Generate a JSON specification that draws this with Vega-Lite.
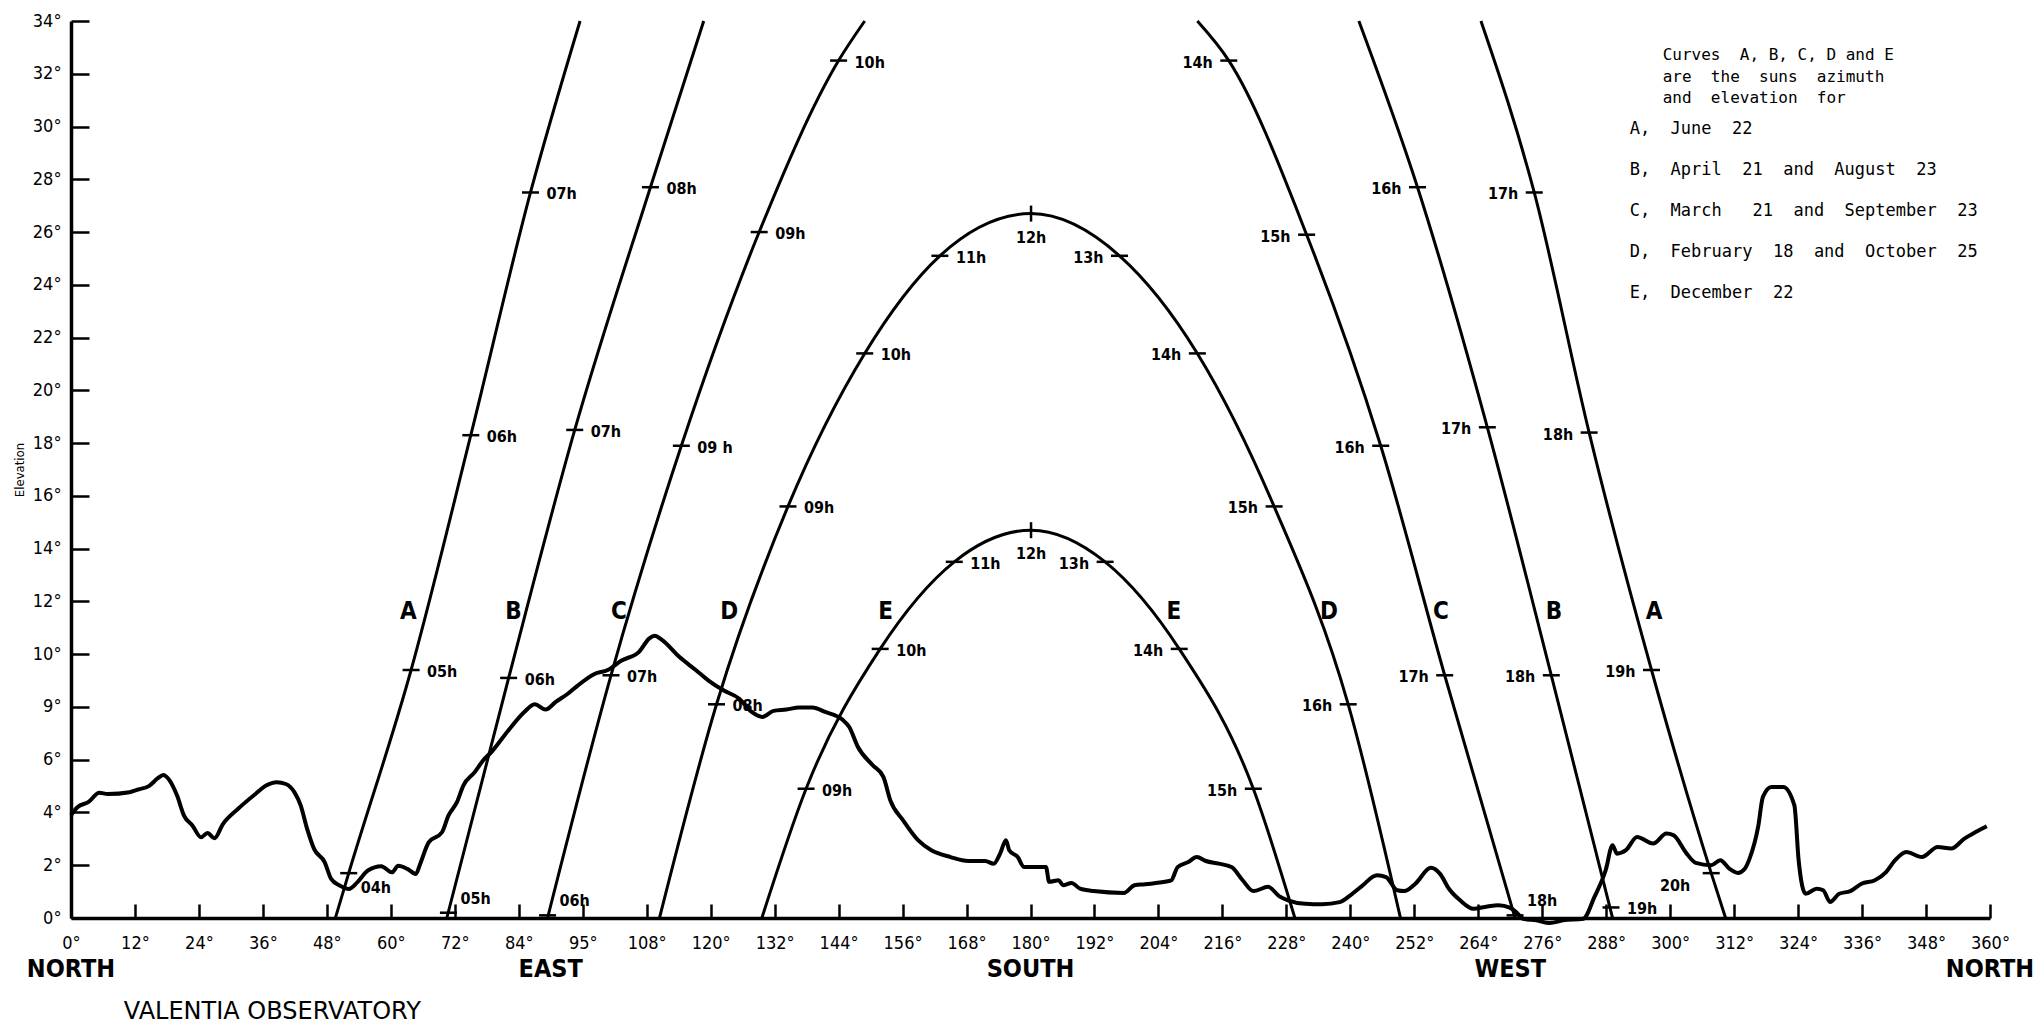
{
  "$schema": "https://vega.github.io/schema/vega-lite/v6.json",
  "width": 1919,
  "height": 897,
  "autosize": {"type": "none"},
  "padding": {"left": 71, "top": 21, "right": 50, "bottom": 110},
  "background": "white",
  "config": {
    "view": {"stroke": null},
    "font": "DejaVu Sans Condensed",
    "text": {"font": "DejaVu Sans Condensed", "color": "black"}
  },
  "datasets": {
    "horizon": [
      {"az": 0, "el": 3.9}, {"az": 1.2, "el": 4.2}, {"az": 3.3, "el": 4.4}, {"az": 5.3, "el": 4.75}, {"az": 6.9, "el": 4.7},
      {"az": 11.0, "el": 4.77}, {"az": 12.6, "el": 4.87}, {"az": 14.6, "el": 5.0}, {"az": 16.3, "el": 5.3}, {"az": 17.3, "el": 5.42},
      {"az": 18.3, "el": 5.27}, {"az": 19.9, "el": 4.64}, {"az": 21.2, "el": 3.88}, {"az": 22.8, "el": 3.5}, {"az": 24.4, "el": 3.06},
      {"az": 25.6, "el": 3.22}, {"az": 26.9, "el": 3.02}, {"az": 28.5, "el": 3.56}, {"az": 31.3, "el": 4.13}, {"az": 34.6, "el": 4.7},
      {"az": 36.6, "el": 5.02}, {"az": 38.6, "el": 5.15}, {"az": 40.3, "el": 5.08}, {"az": 41.9, "el": 4.77}, {"az": 43.1, "el": 4.26},
      {"az": 44.3, "el": 3.38}, {"az": 45.6, "el": 2.62}, {"az": 47.6, "el": 2.11}, {"az": 48.8, "el": 1.48}, {"az": 50.4, "el": 1.23},
      {"az": 52.1, "el": 1.1}, {"az": 53.7, "el": 1.35}, {"az": 55.7, "el": 1.8}, {"az": 58.2, "el": 1.96}, {"az": 60.2, "el": 1.73},
      {"az": 61.4, "el": 1.98}, {"az": 63.1, "el": 1.86}, {"az": 64.7, "el": 1.67}, {"az": 65.5, "el": 2.05}, {"az": 67.1, "el": 2.87},
      {"az": 69.6, "el": 3.25}, {"az": 70.8, "el": 3.88}, {"az": 72.4, "el": 4.39}, {"az": 73.6, "el": 5.02}, {"az": 75.7, "el": 5.52},
      {"az": 77.3, "el": 5.97}, {"az": 78.9, "el": 6.3}, {"az": 82.0, "el": 7.1}, {"az": 85.0, "el": 7.8}, {"az": 87.0, "el": 8.1},
      {"az": 89.0, "el": 7.9}, {"az": 91.0, "el": 8.2}, {"az": 93.2, "el": 8.5}, {"az": 95.0, "el": 8.8}, {"az": 98.2, "el": 9.25},
      {"az": 100.7, "el": 9.4}, {"az": 103.2, "el": 9.75}, {"az": 106.6, "el": 10.1}, {"az": 108.5, "el": 10.6}, {"az": 109.5, "el": 10.7},
      {"az": 110.8, "el": 10.55}, {"az": 114.1, "el": 9.9}, {"az": 117.2, "el": 9.4}, {"az": 119.6, "el": 9.0}, {"az": 122.4, "el": 8.63},
      {"az": 125.3, "el": 8.32}, {"az": 127.7, "el": 7.81}, {"az": 129.7, "el": 7.62}, {"az": 131.8, "el": 7.85}, {"az": 134.2, "el": 7.9},
      {"az": 136.6, "el": 7.98}, {"az": 139.1, "el": 7.98}, {"az": 141.5, "el": 7.81}, {"az": 144.7, "el": 7.52}, {"az": 146.0, "el": 7.24},
      {"az": 147.6, "el": 6.49}, {"az": 150.4, "el": 5.79}, {"az": 152.4, "el": 5.35}, {"az": 153.7, "el": 4.46}, {"az": 156.1, "el": 3.7},
      {"az": 158.9, "el": 2.95}, {"az": 161.4, "el": 2.57}, {"az": 165.0, "el": 2.31}, {"az": 168.3, "el": 2.16}, {"az": 171.5, "el": 2.16},
      {"az": 173.1, "el": 2.06}, {"az": 174.3, "el": 2.44}, {"az": 175.4, "el": 2.95}, {"az": 176.0, "el": 2.57}, {"az": 177.6, "el": 2.31},
      {"az": 178.8, "el": 1.93}, {"az": 182.9, "el": 1.93}, {"az": 183.5, "el": 1.37}, {"az": 185.3, "el": 1.43}, {"az": 186.1, "el": 1.24},
      {"az": 187.7, "el": 1.33}, {"az": 189.3, "el": 1.11}, {"az": 191.8, "el": 1.02}, {"az": 197.5, "el": 0.95}, {"az": 199.5, "el": 1.24},
      {"az": 201.5, "el": 1.28}, {"az": 203.5, "el": 1.33}, {"az": 206.4, "el": 1.43}, {"az": 207.6, "el": 1.93}, {"az": 209.6, "el": 2.12},
      {"az": 211.2, "el": 2.31}, {"az": 212.9, "el": 2.16}, {"az": 215.3, "el": 2.06}, {"az": 217.7, "el": 1.93}, {"az": 219.8, "el": 1.43},
      {"az": 221.8, "el": 1.02}, {"az": 224.6, "el": 1.18}, {"az": 226.7, "el": 0.82}, {"az": 228.3, "el": 0.67}, {"az": 231.5, "el": 0.54},
      {"az": 234.7, "el": 0.52}, {"az": 238.0, "el": 0.6}, {"az": 240.0, "el": 0.86}, {"az": 242.1, "el": 1.2}, {"az": 245.0, "el": 1.62},
      {"az": 246.7, "el": 1.55}, {"az": 248.8, "el": 1.05}, {"az": 250.1, "el": 1.02}, {"az": 252.2, "el": 1.3}, {"az": 255.1, "el": 1.9},
      {"az": 256.8, "el": 1.68}, {"az": 258.5, "el": 1.11}, {"az": 260.6, "el": 0.67}, {"az": 263.1, "el": 0.35}, {"az": 265.7, "el": 0.44},
      {"az": 267.8, "el": 0.48}, {"az": 269.9, "el": 0.39}, {"az": 271.1, "el": 0.23}, {"az": 272.4, "el": -0.03}, {"az": 274.9, "el": -0.09},
      {"az": 277.4, "el": -0.19}, {"az": 279.9, "el": -0.09}, {"az": 283.7, "el": -0.03}, {"az": 285.8, "el": 0.8}, {"az": 287.9, "el": 1.81},
      {"az": 289.2, "el": 2.76}, {"az": 290.0, "el": 2.44}, {"az": 291.7, "el": 2.57}, {"az": 293.8, "el": 3.07}, {"az": 296.8, "el": 2.82},
      {"az": 299.3, "el": 3.2}, {"az": 300.6, "el": 3.14}, {"az": 303.1, "el": 2.44}, {"az": 304.8, "el": 2.09}, {"az": 307.7, "el": 2.0},
      {"az": 309.4, "el": 2.19}, {"az": 311.1, "el": 1.87}, {"az": 312.7, "el": 1.71}, {"az": 314.0, "el": 1.87}, {"az": 314.9, "el": 2.25},
      {"az": 316.5, "el": 3.45}, {"az": 317.4, "el": 4.59}, {"az": 319.0, "el": 4.97}, {"az": 321.2, "el": 4.97}, {"az": 323.3, "el": 4.27},
      {"az": 324.1, "el": 2.19}, {"az": 325.4, "el": 0.92}, {"az": 327.5, "el": 1.11}, {"az": 328.7, "el": 1.05}, {"az": 330.0, "el": 0.61},
      {"az": 331.7, "el": 0.92}, {"az": 333.8, "el": 1.02}, {"az": 335.9, "el": 1.3}, {"az": 338.4, "el": 1.43}, {"az": 340.5, "el": 1.74},
      {"az": 342.2, "el": 2.19}, {"az": 344.3, "el": 2.5}, {"az": 347.2, "el": 2.31}, {"az": 350.2, "el": 2.69}, {"az": 352.7, "el": 2.63},
      {"az": 355.2, "el": 3.01}, {"az": 357.3, "el": 3.26}, {"az": 359.4, "el": 3.48}
    ],
    "curves": [
      {"curve": "A am", "az": 49.6, "el": 0}, {"curve": "A am", "az": 52.1, "el": 1.7}, {"curve": "A am", "az": 63.8, "el": 9.4},
      {"curve": "A am", "az": 75.0, "el": 18.3}, {"curve": "A am", "az": 86.2, "el": 27.5}, {"curve": "A am", "az": 95.5, "el": 34},
      {"curve": "A pm", "az": 264.5, "el": 34}, {"curve": "A pm", "az": 274.5, "el": 27.5}, {"curve": "A pm", "az": 284.8, "el": 18.4},
      {"curve": "A pm", "az": 296.5, "el": 9.4}, {"curve": "A pm", "az": 307.7, "el": 1.7}, {"curve": "A pm", "az": 310.4, "el": 0},
      {"curve": "B am", "az": 70.5, "el": 0}, {"curve": "B am", "az": 82.1, "el": 9.1}, {"curve": "B am", "az": 94.5, "el": 18.5},
      {"curve": "B am", "az": 108.7, "el": 27.7}, {"curve": "B am", "az": 118.7, "el": 34},
      {"curve": "B pm", "az": 241.6, "el": 34}, {"curve": "B pm", "az": 252.6, "el": 27.7}, {"curve": "B pm", "az": 265.7, "el": 18.6},
      {"curve": "B pm", "az": 277.7, "el": 9.2}, {"curve": "B pm", "az": 289.2, "el": 0},
      {"curve": "C am", "az": 89.4, "el": 0}, {"curve": "C am", "az": 101.3, "el": 9.2}, {"curve": "C am", "az": 114.5, "el": 17.9},
      {"curve": "C am", "az": 129.1, "el": 26.0}, {"curve": "C am", "az": 144.0, "el": 32.5}, {"curve": "C am", "az": 148.9, "el": 34},
      {"curve": "C pm", "az": 211.3, "el": 34}, {"curve": "C pm", "az": 217.2, "el": 32.5}, {"curve": "C pm", "az": 231.8, "el": 25.9},
      {"curve": "C pm", "az": 245.7, "el": 17.9}, {"curve": "C pm", "az": 257.7, "el": 9.2}, {"curve": "C pm", "az": 270.9, "el": 0},
      {"curve": "D", "az": 110.4, "el": 0}, {"curve": "D", "az": 121.1, "el": 8.1}, {"curve": "D", "az": 134.5, "el": 15.6},
      {"curve": "D", "az": 148.9, "el": 21.4}, {"curve": "D", "az": 163.0, "el": 25.1}, {"curve": "D", "az": 180.1, "el": 26.7},
      {"curve": "D", "az": 196.7, "el": 25.1}, {"curve": "D", "az": 211.3, "el": 21.4}, {"curve": "D", "az": 225.7, "el": 15.6},
      {"curve": "D", "az": 239.6, "el": 8.1}, {"curve": "D", "az": 249.4, "el": 0},
      {"curve": "E", "az": 129.6, "el": 0}, {"curve": "E", "az": 137.9, "el": 4.9}, {"curve": "E", "az": 151.8, "el": 10.2},
      {"curve": "E", "az": 165.7, "el": 13.5}, {"curve": "E", "az": 180.1, "el": 14.7}, {"curve": "E", "az": 194.0, "el": 13.5},
      {"curve": "E", "az": 207.9, "el": 10.2}, {"curve": "E", "az": 221.8, "el": 4.9}, {"curve": "E", "az": 229.6, "el": 0}
    ],
    "hours": [
      {"curve": "A", "hour": "04h", "az": 52.1, "el": 1.7, "side": "RD"},
      {"curve": "A", "hour": "05h", "az": 63.8, "el": 9.4, "side": "R"},
      {"curve": "A", "hour": "06h", "az": 75.0, "el": 18.3, "side": "R"},
      {"curve": "A", "hour": "07h", "az": 86.2, "el": 27.5, "side": "R"},
      {"curve": "A", "hour": "17h", "az": 274.5, "el": 27.5, "side": "L"},
      {"curve": "A", "hour": "18h", "az": 284.8, "el": 18.4, "side": "L"},
      {"curve": "A", "hour": "19h", "az": 296.5, "el": 9.4, "side": "L"},
      {"curve": "A", "hour": "20h", "az": 307.7, "el": 1.7, "side": "LD"},
      {"curve": "B", "hour": "05h", "az": 70.8, "el": 0.2, "side": "RU"},
      {"curve": "B", "hour": "06h", "az": 82.1, "el": 9.1, "side": "R"},
      {"curve": "B", "hour": "07h", "az": 94.5, "el": 18.5, "side": "R"},
      {"curve": "B", "hour": "08h", "az": 108.7, "el": 27.7, "side": "R"},
      {"curve": "B", "hour": "16h", "az": 252.6, "el": 27.7, "side": "L"},
      {"curve": "B", "hour": "17h", "az": 265.7, "el": 18.6, "side": "L"},
      {"curve": "B", "hour": "18h", "az": 277.7, "el": 9.2, "side": "L"},
      {"curve": "B", "hour": "19h", "az": 288.9, "el": 0.4, "side": "R"},
      {"curve": "C", "hour": "06h", "az": 89.4, "el": 0.1, "side": "RU"},
      {"curve": "C", "hour": "07h", "az": 101.3, "el": 9.2, "side": "R"},
      {"curve": "C", "hour": "09 h", "az": 114.5, "el": 17.9, "side": "R"},
      {"curve": "C", "hour": "09h", "az": 129.1, "el": 26.0, "side": "R"},
      {"curve": "C", "hour": "10h", "az": 144.0, "el": 32.5, "side": "R"},
      {"curve": "C", "hour": "14h", "az": 217.2, "el": 32.5, "side": "L"},
      {"curve": "C", "hour": "15h", "az": 231.8, "el": 25.9, "side": "L"},
      {"curve": "C", "hour": "16h", "az": 245.7, "el": 17.9, "side": "L"},
      {"curve": "C", "hour": "17h", "az": 257.7, "el": 9.2, "side": "L"},
      {"curve": "C", "hour": "18h", "az": 270.9, "el": 0.1, "side": "RU"},
      {"curve": "D", "hour": "08h", "az": 121.1, "el": 8.1, "side": "R"},
      {"curve": "D", "hour": "09h", "az": 134.5, "el": 15.6, "side": "R"},
      {"curve": "D", "hour": "10h", "az": 148.9, "el": 21.4, "side": "R"},
      {"curve": "D", "hour": "11h", "az": 163.0, "el": 25.1, "side": "R"},
      {"curve": "D", "hour": "12h", "az": 180.1, "el": 26.7, "side": "B"},
      {"curve": "D", "hour": "13h", "az": 196.7, "el": 25.1, "side": "L"},
      {"curve": "D", "hour": "14h", "az": 211.3, "el": 21.4, "side": "L"},
      {"curve": "D", "hour": "15h", "az": 225.7, "el": 15.6, "side": "L"},
      {"curve": "D", "hour": "16h", "az": 239.6, "el": 8.1, "side": "L"},
      {"curve": "E", "hour": "09h", "az": 137.9, "el": 4.9, "side": "R"},
      {"curve": "E", "hour": "10h", "az": 151.8, "el": 10.2, "side": "R"},
      {"curve": "E", "hour": "11h", "az": 165.7, "el": 13.5, "side": "R"},
      {"curve": "E", "hour": "12h", "az": 180.1, "el": 14.7, "side": "B"},
      {"curve": "E", "hour": "13h", "az": 194.0, "el": 13.5, "side": "L"},
      {"curve": "E", "hour": "14h", "az": 207.9, "el": 10.2, "side": "L"},
      {"curve": "E", "hour": "15h", "az": 221.8, "el": 4.9, "side": "L"}
    ],
    "letters": [
      {"letter": "A", "az": 63.3, "el": 11.6}, {"letter": "B", "az": 83.0, "el": 11.6}, {"letter": "C", "az": 102.8, "el": 11.6},
      {"letter": "D", "az": 123.5, "el": 11.6}, {"letter": "E", "az": 152.8, "el": 11.6}, {"letter": "E", "az": 206.9, "el": 11.6},
      {"letter": "D", "az": 236.0, "el": 11.6}, {"letter": "C", "az": 257.0, "el": 11.6}, {"letter": "B", "az": 278.2, "el": 11.6},
      {"letter": "A", "az": 297.0, "el": 11.6}
    ],
    "directions": [
      {"name": "NORTH", "az": 0}, {"name": "EAST", "az": 90}, {"name": "SOUTH", "az": 180}, {"name": "WEST", "az": 270}, {"name": "NORTH", "az": 360}
    ],
    "notes": [
      {"block": "intro", "lines": ["Curves\u00a0 A, B, C, D and E", "are\u00a0 the\u00a0 suns\u00a0 azimuth", "and\u00a0 elevation\u00a0 for"]},
      {"block": "dates", "lines": ["A,\u00a0 June\u00a0 22", "B,\u00a0 April\u00a0 21\u00a0 and\u00a0 August\u00a0 23", "C,\u00a0 March\u00a0\u00a0 21\u00a0 and\u00a0 September\u00a0 23", "D,\u00a0 February\u00a0 18\u00a0 and\u00a0 October\u00a0 25", "E,\u00a0 December\u00a0 22"]}
    ],
    "caption": [{"caption": "VALENTIA OBSERVATORY"}]
  },
  "layer": [
    {
      "data": {"name": "horizon"},
      "mark": {"type": "line", "color": "black", "strokeWidth": 4, "interpolate": "monotone"},
      "encoding": {
        "x": {
          "field": "az", "type": "quantitative",
          "scale": {"domain": [0, 360], "nice": false, "zero": false},
          "axis": {
            "values": [0, 12, 24, 36, 48, 60, 72, 84, 96, 108, 120, 132, 144, 156, 168, 180, 192, 204, 216, 228, 240, 252, 264, 276, 288, 300, 312, 324, 336, 348, 360],
            "labelExpr": "datum.value == 96 ? '95°' : datum.value + '°'",
            "title": null, "grid": false,
            "domainColor": "black", "domainWidth": 3.5,
            "tickColor": "black", "tickWidth": 2.5, "tickSize": -14,
            "labelFont": "DejaVu Sans Condensed", "labelFontSize": 18, "labelColor": "black",
            "labelPadding": 30, "labelFlush": false, "labelOverlap": false
          }
        },
        "y": {
          "field": "el", "type": "quantitative",
          "scale": {"domain": [0, 34], "nice": false, "zero": false},
          "axis": {
            "values": [0, 1, 2, 3, 4, 5, 6, 7, 8, 9, 10, 11, 12, 13, 14, 15, 16, 17, 18, 19, 20, 21, 22, 23, 24, 25, 26, 27, 28, 29, 30, 31, 32, 33, 34],
            "labelExpr": "datum.value % 2 == 0 ? (datum.value == 8 ? '9°' : datum.value + '°') : ''",
            "title": "Elevation", "titleFont": "DejaVu Sans Condensed", "titleFontSize": 13, "titleFontWeight": "normal",
            "titleColor": "black", "titlePadding": 6,
            "grid": false,
            "domainColor": "black", "domainWidth": 3.5,
            "tickColor": "black", "tickWidth": 2.5, "tickSize": -18,
            "labelFont": "DejaVu Sans Condensed", "labelFontSize": 18, "labelColor": "black",
            "labelPadding": 28, "labelFlush": false, "labelOverlap": false
          }
        }
      }
    },
    {
      "data": {"name": "curves"},
      "mark": {"type": "line", "color": "black", "strokeWidth": 3, "interpolate": "monotone"},
      "encoding": {
        "x": {"field": "az", "type": "quantitative"},
        "y": {"field": "el", "type": "quantitative"},
        "detail": {"field": "curve"}
      }
    },
    {
      "data": {"name": "hours"},
      "transform": [{"filter": "datum.hour != '12h'"}],
      "mark": {"type": "point", "shape": "stroke", "size": 289, "stroke": "black", "strokeWidth": 2.5, "filled": false, "opacity": 1},
      "encoding": {
        "x": {"field": "az", "type": "quantitative"},
        "y": {"field": "el", "type": "quantitative"}
      }
    },
    {
      "data": {"name": "hours"},
      "transform": [{"filter": "datum.hour == '12h'"}],
      "mark": {"type": "point", "shape": "M0,-1L0,1", "size": 256, "stroke": "black", "strokeWidth": 2.5, "filled": false, "opacity": 1},
      "encoding": {
        "x": {"field": "az", "type": "quantitative"},
        "y": {"field": "el", "type": "quantitative"}
      }
    },
    {
      "data": {"name": "hours"},
      "transform": [{"filter": "datum.side == 'R'"}],
      "mark": {"type": "text", "align": "left", "baseline": "middle", "dx": 16, "dy": 2, "fontSize": 16, "fontWeight": "bold"},
      "encoding": {
        "x": {"field": "az", "type": "quantitative"},
        "y": {"field": "el", "type": "quantitative"},
        "text": {"field": "hour"}
      }
    },
    {
      "data": {"name": "hours"},
      "transform": [{"filter": "datum.side == 'L'"}],
      "mark": {"type": "text", "align": "right", "baseline": "middle", "dx": -16, "dy": 2, "fontSize": 16, "fontWeight": "bold"},
      "encoding": {
        "x": {"field": "az", "type": "quantitative"},
        "y": {"field": "el", "type": "quantitative"},
        "text": {"field": "hour"}
      }
    },
    {
      "data": {"name": "hours"},
      "transform": [{"filter": "datum.side == 'B'"}],
      "mark": {"type": "text", "align": "center", "baseline": "middle", "dy": 24, "fontSize": 16, "fontWeight": "bold"},
      "encoding": {
        "x": {"field": "az", "type": "quantitative"},
        "y": {"field": "el", "type": "quantitative"},
        "text": {"field": "hour"}
      }
    },
    {
      "data": {"name": "hours"},
      "transform": [{"filter": "datum.side == 'RU'"}],
      "mark": {"type": "text", "align": "left", "baseline": "middle", "dx": 12, "dy": -14, "fontSize": 16, "fontWeight": "bold"},
      "encoding": {
        "x": {"field": "az", "type": "quantitative"},
        "y": {"field": "el", "type": "quantitative"},
        "text": {"field": "hour"}
      }
    },
    {
      "data": {"name": "hours"},
      "transform": [{"filter": "datum.side == 'RD'"}],
      "mark": {"type": "text", "align": "left", "baseline": "middle", "dx": 12, "dy": 15, "fontSize": 16, "fontWeight": "bold"},
      "encoding": {
        "x": {"field": "az", "type": "quantitative"},
        "y": {"field": "el", "type": "quantitative"},
        "text": {"field": "hour"}
      }
    },
    {
      "data": {"name": "hours"},
      "transform": [{"filter": "datum.side == 'LD'"}],
      "mark": {"type": "text", "align": "right", "baseline": "middle", "dx": -21, "dy": 13, "fontSize": 16, "fontWeight": "bold"},
      "encoding": {
        "x": {"field": "az", "type": "quantitative"},
        "y": {"field": "el", "type": "quantitative"},
        "text": {"field": "hour"}
      }
    },
    {
      "data": {"name": "letters"},
      "mark": {"type": "text", "align": "center", "baseline": "middle", "fontSize": 24, "fontWeight": "bold"},
      "encoding": {
        "x": {"field": "az", "type": "quantitative"},
        "y": {"field": "el", "type": "quantitative"},
        "text": {"field": "letter"}
      }
    },
    {
      "data": {"name": "directions"},
      "mark": {"type": "text", "align": "center", "baseline": "middle", "fontSize": 25, "fontWeight": "bold"},
      "encoding": {
        "x": {"field": "az", "type": "quantitative"},
        "y": {"datum": -1.93, "type": "quantitative"},
        "text": {"field": "name"}
      }
    },
    {
      "data": {"name": "caption"},
      "mark": {"type": "text", "align": "left", "baseline": "middle", "fontSize": 24, "font": "DejaVu Sans"},
      "encoding": {
        "x": {"datum": 9.9, "type": "quantitative"},
        "y": {"datum": -3.56, "type": "quantitative"},
        "text": {"field": "caption"}
      }
    },
    {
      "data": {"name": "notes"},
      "transform": [{"filter": "datum.block == 'intro'"}],
      "mark": {"type": "text", "align": "left", "baseline": "top", "fontSize": 16, "lineHeight": 21.5, "font": "DejaVu Sans Mono"},
      "encoding": {
        "x": {"datum": 298.6, "type": "quantitative"},
        "y": {"datum": 33.0, "type": "quantitative"},
        "text": {"field": "lines"}
      }
    },
    {
      "data": {"name": "notes"},
      "transform": [{"filter": "datum.block == 'dates'"}],
      "mark": {"type": "text", "align": "left", "baseline": "top", "fontSize": 17, "lineHeight": 41, "font": "DejaVu Sans Mono"},
      "encoding": {
        "x": {"datum": 292.4, "type": "quantitative"},
        "y": {"datum": 30.2, "type": "quantitative"},
        "text": {"field": "lines"}
      }
    }
  ]
}
